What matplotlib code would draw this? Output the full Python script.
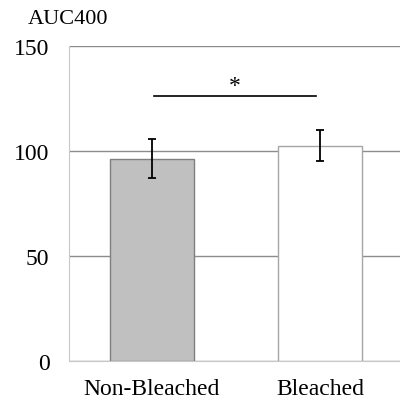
import matplotlib.pyplot as plt

categories = ['Non-Bleached', 'Bleached']
means = [96.4, 102.6]
errors = [9.3, 7.4]
sig_level = 126.4
sig_label = '*'

plt.rcParams['font.family'] = ['Liberation Serif', 'DejaVu Serif']

fig = plt.figure(figsize=(4, 4.02), dpi=100)
ax = fig.add_axes([69 / 400, 40 / 402, 331 / 400, 315 / 402])

x = range(len(categories))
ax.bar(x, means, width=0.5, color=['#c0c0c0', 'white'],
       edgecolor=['#7f7f7f', '#a6a6a6'], linewidth=1.0, zorder=2)
ax.errorbar(x, means, yerr=errors, fmt='none', ecolor='black',
            elinewidth=1.3, capsize=3, capthick=1.3, zorder=3)

ax.plot([0.01, 0.975], [sig_level, sig_level], color='black', lw=1.2)
ax.text(0.49, 131.4, sig_label, ha='center', va='center', fontsize=17)

ax.set_ylim(0, 150)
ax.set_xlim(-0.494, 1.476)
ax.set_yticks([0, 50, 100, 150])
ax.set_xticks(list(x))
ax.set_xticklabels(categories)
ax.yaxis.grid(True, color='#8c8c8c', lw=1.0, zorder=0)
ax.set_axisbelow(True)
ax.tick_params(length=0, labelsize=17)
ax.tick_params(axis='y', pad=14)
ax.tick_params(axis='x', pad=12)
for s in ['top', 'right']:
    ax.spines[s].set_visible(False)
ax.spines['left'].set_color('#c8c8c8')
ax.spines['bottom'].set_color('#c8c8c8')
fig.text(28 / 400, 1 - 20 / 402, 'AUC400', fontsize=16, ha='left', va='center')

fig.savefig('out.png', dpi=100)
